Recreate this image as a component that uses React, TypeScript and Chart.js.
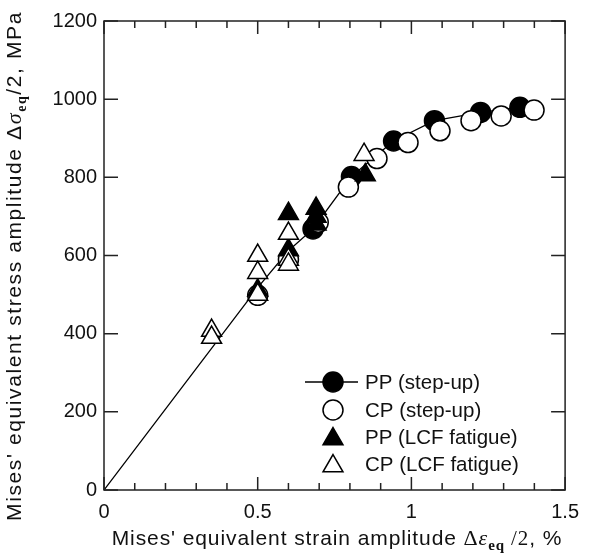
import React, { useEffect, useRef } from 'react';
import { Chart, registerables } from 'chart.js';

Chart.register(...registerables);

// ---- data ----
// first three points are line vertices of the step-up curve (no visible marker)
const ppStepX = [0, 0.5, 0.6, 0.68, 0.805, 0.942, 1.075, 1.225, 1.353];
const ppStepY = [0, 518, 612, 668, 802, 893, 945, 966, 979];
const ppStepHidden = [true, true, true, false, false, false, false, false, false];

const cpStepX = [0.5, 0.6, 0.697, 0.795, 0.888, 0.989, 1.093, 1.194, 1.292, 1.399];
const cpStepY = [498, 590, 685, 775, 848, 889, 919, 945, 957, 972];

const ppLcfX = [0.5, 0.6, 0.6, 0.69, 0.69, 0.69, 0.85];
const ppLcfY = [511, 707, 614, 720, 700, 680, 806];

const cpLcfX = [0.35, 0.35, 0.5, 0.5, 0.5, 0.6, 0.6, 0.6, 0.846];
const cpLcfY = [408, 390, 600, 556, 500, 656, 590, 577, 858];

const xMajorTicks = [0, 0.5, 1, 1.5];
const xMinorTicks = [0.1, 0.2, 0.3, 0.4, 0.6, 0.7, 0.8, 0.9, 1.1, 1.2, 1.3, 1.4];
const yMajorTicks = [0, 200, 400, 600, 800, 1000, 1200];

const legendLabels = ['PP (step-up)', 'CP (step-up)', 'PP (LCF fatigue)', 'CP (LCF fatigue)'];

const zip = (xs: number[], ys: number[]) => xs.map((x, i) => ({ x, y: ys[i] }));

const SANS = '"Liberation Sans", Arial, sans-serif';
const SERIF = '"Liberation Serif", "Times New Roman", serif';

type Seg = { t: string; f: string; dy?: number };

function drawRich(ctx: CanvasRenderingContext2D, segs: Seg[], cx: number, by: number, spacing: number) {
  (ctx as any).letterSpacing = `${spacing}px`;
  let w = 0;
  for (const s of segs) {
    ctx.font = s.f;
    w += ctx.measureText(s.t).width;
  }
  let x = cx - w / 2;
  ctx.textBaseline = 'alphabetic';
  ctx.textAlign = 'left';
  for (const s of segs) {
    ctx.font = s.f;
    ctx.fillText(s.t, x, by + (s.dy || 0));
    x += ctx.measureText(s.t).width;
  }
  (ctx as any).letterSpacing = '0px';
}

function marker(ctx: CanvasRenderingContext2D, kind: string, x: number, y: number, filled: boolean) {
  ctx.beginPath();
  if (kind === 'circle') {
    ctx.arc(x, y, 10, 0, Math.PI * 2);
  } else {
    const r = 11.5;
    for (let k = 0; k < 3; k++) {
      const a = (k * 2 * Math.PI) / 3;
      const px = x + Math.sin(a) * r;
      const py = y - Math.cos(a) * r;
      if (k === 0) ctx.moveTo(px, py);
      else ctx.lineTo(px, py);
    }
    ctx.closePath();
  }
  ctx.fillStyle = filled ? '#000' : '#fff';
  ctx.fill();
  ctx.lineWidth = 1.5;
  ctx.strokeStyle = '#000';
  ctx.stroke();
}

const decorPlugin = {
  id: 'decor',
  afterDraw(chart: any) {
    const { ctx, chartArea: a, scales } = chart;
    const xs = scales.x;
    const ys = scales.y;
    ctx.save();
    // frame
    ctx.strokeStyle = '#222';
    ctx.lineWidth = 1.5;
    ctx.strokeRect(a.left, a.top, a.right - a.left, a.bottom - a.top);
    // ticks
    ctx.beginPath();
    const tickX = (v: number, len: number) => {
      const p = xs.getPixelForValue(v);
      ctx.moveTo(p, a.bottom);
      ctx.lineTo(p, a.bottom - len);
      ctx.moveTo(p, a.top);
      ctx.lineTo(p, a.top + len);
    };
    xMajorTicks.forEach((v) => tickX(v, 13));
    xMinorTicks.forEach((v) => tickX(v, 7));
    yMajorTicks.forEach((v) => {
      const p = ys.getPixelForValue(v);
      ctx.moveTo(a.left, p);
      ctx.lineTo(a.left + 14, p);
      ctx.moveTo(a.right, p);
      ctx.lineTo(a.right - 14, p);
    });
    ctx.stroke();

    // axis titles
    ctx.fillStyle = '#111';
    drawRich(
      ctx,
      [
        { t: "Mises' equivalent strain amplitude ", f: `21px ${SANS}` },
        { t: 'Δ', f: `22px ${SERIF}` },
        { t: 'ε', f: `italic 22px ${SERIF}` },
        { t: 'eq', f: `bold 15px ${SERIF}`, dy: 5 },
        { t: ' /2', f: `21px ${SERIF}` },
        { t: ', %', f: `21px ${SANS}` },
      ],
      337,
      545,
      0.9
    );
    ctx.save();
    ctx.translate(21, 266);
    ctx.rotate(-Math.PI / 2);
    drawRich(
      ctx,
      [
        { t: "Mises' equivalent stress amplitude ", f: `21px ${SANS}` },
        { t: 'Δ', f: `21px ${SANS}` },
        { t: 'σ', f: `italic 22px ${SERIF}` },
        { t: 'eq', f: `bold 14px ${SERIF}`, dy: 5 },
        { t: '/2, MPa', f: `21px ${SANS}` },
      ],
      0,
      0,
      1.6
    );
    ctx.restore();

    // legend
    const lx = 333;
    const rows = [382, 410, 437, 464];
    ctx.beginPath();
    ctx.lineWidth = 1.3;
    ctx.strokeStyle = '#000';
    ctx.moveTo(lx - 28, rows[0]);
    ctx.lineTo(lx + 25, rows[0]);
    ctx.stroke();
    marker(ctx, 'circle', lx, rows[0], true);
    marker(ctx, 'circle', lx, rows[1], false);
    marker(ctx, 'tri', lx, rows[2] + 2, true);
    marker(ctx, 'tri', lx, rows[3] + 2, false);
    ctx.fillStyle = '#111';
    ctx.font = `20.5px ${SANS}`;
    ctx.textAlign = 'left';
    ctx.textBaseline = 'middle';
    legendLabels.forEach((l, i) => ctx.fillText(l, lx + 32, rows[i] + 1));
    ctx.restore();
  },
};

export default function App() {
  const ref = useRef<HTMLCanvasElement | null>(null);
  useEffect(() => {
    document.body.style.margin = '0';
    const canvas = ref.current!;
    const chart = new Chart(canvas, {
      type: 'scatter',
      data: {
        datasets: [
          {
            label: legendLabels[0],
            data: zip(ppStepX, ppStepY),
            showLine: true,
            borderColor: '#000',
            borderWidth: 1.3,
            backgroundColor: '#000',
            pointBackgroundColor: '#000',
            pointBorderColor: '#000',
            pointBorderWidth: 1.5,
            pointRadius: ppStepHidden.map((h) => (h ? 0 : 10)),
            pointStyle: 'circle',
            order: 4,
          },
          {
            label: legendLabels[1],
            data: zip(cpStepX, cpStepY),
            showLine: false,
            pointBackgroundColor: '#fff',
            pointBorderColor: '#000',
            pointBorderWidth: 1.5,
            pointRadius: 10,
            pointStyle: 'circle',
            order: 3,
          },
          {
            label: legendLabels[2],
            data: zip(ppLcfX, ppLcfY),
            showLine: false,
            pointBackgroundColor: '#000',
            pointBorderColor: '#000',
            pointBorderWidth: 1.5,
            pointRadius: 11.5,
            pointStyle: 'triangle',
            order: 2,
          },
          {
            label: legendLabels[3],
            data: zip(cpLcfX, cpLcfY),
            showLine: false,
            pointBackgroundColor: '#fff',
            pointBorderColor: '#000',
            pointBorderWidth: 1.5,
            pointRadius: 11.5,
            pointStyle: 'triangle',
            order: 1,
          },
        ],
      },
      options: {
        animation: false,
        responsive: false,
        events: [],
        layout: { padding: { left: 0, right: 16, top: 21, bottom: 0 } },
        plugins: { legend: { display: false }, tooltip: { enabled: false } },
        scales: {
          x: {
            type: 'linear',
            min: 0,
            max: 1.5,
            grid: { display: false, drawTicks: false },
            border: { display: false },
            ticks: {
              stepSize: 0.5,
              padding: 10,
              color: '#111',
              font: { family: SANS, size: 20 },
              callback: (v: any) => String(Number(v)),
            },
            afterFit: (s: any) => {
              s.height = 67;
            },
          },
          y: {
            type: 'linear',
            min: 0,
            max: 1200,
            grid: { display: false, drawTicks: false },
            border: { display: false },
            ticks: {
              stepSize: 200,
              padding: 7,
              color: '#111',
              font: { family: SANS, size: 20 },
              callback: (v: any) => String(Number(v)),
            },
            afterFit: (s: any) => {
              s.width = 104;
            },
          },
        },
      },
      plugins: [decorPlugin],
    });
    return () => chart.destroy();
  }, []);
  return (
    <div style={{ width: 589, height: 557 }}>
      <canvas ref={ref} width={589} height={557} style={{ display: 'block' }} />
    </div>
  );
}
